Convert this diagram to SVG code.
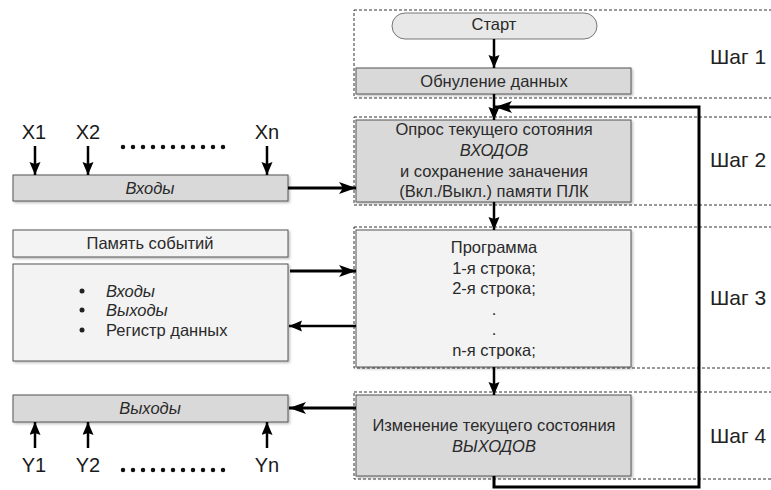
<svg xmlns="http://www.w3.org/2000/svg" width="771" height="490" viewBox="0 0 771 490">
<defs>
<marker id="ah" markerUnits="userSpaceOnUse" markerWidth="18" markerHeight="13" refX="17" refY="6" orient="auto">
<path d="M0,0 L17,6 L0,12 L4,6 z" fill="#000"/>
</marker>
<marker id="ahs" markerUnits="userSpaceOnUse" markerWidth="14" markerHeight="12" refX="13" refY="5.5" orient="auto">
<path d="M0,0 L13,5.5 L0,11 L2,5.5 z" fill="#000"/>
</marker>
<filter id="sh" x="-5%" y="-10%" width="110%" height="130%">
<feDropShadow dx="1.5" dy="1.5" stdDeviation="0.8" flood-color="#000" flood-opacity="0.25"/>
</filter>
</defs>
<style>
text{font-family:"Liberation Sans",Arial,sans-serif;fill:#2a2a2a;}
.t{font-size:16.5px;text-anchor:middle;}
.i{font-style:italic;}
.step{font-size:21px;fill:#222;}
.lbl{font-size:20px;text-anchor:middle;fill:#1a1a1a;}
.dash{fill:none;stroke:#333;stroke-width:1;stroke-dasharray:3,2;}
.dk{fill:#d9d9d9;stroke:#555;stroke-width:1;filter:url(#sh);}
.lt{fill:#f3f3f3;stroke:#555;stroke-width:1;filter:url(#sh);}
.ar{fill:none;stroke:#000;stroke-width:3;marker-end:url(#ah);}
.as{fill:none;stroke:#000;stroke-width:2.5;marker-end:url(#ahs);}
.dots{fill:none;stroke:#111;stroke-width:4.5;stroke-linecap:round;stroke-dasharray:0,10;}
</style>

<g id="steps">
<rect class="dash" x="354" y="10" width="430" height="88"/>
<rect class="dash" x="354" y="117" width="430" height="88"/>
<rect class="dash" x="354" y="227" width="430" height="141"/>
<rect class="dash" x="354" y="392" width="430" height="87"/>
<text class="step" x="710" y="64">Шаг 1</text>
<text class="step" x="710" y="167">Шаг 2</text>
<text class="step" x="710" y="305">Шаг 3</text>
<text class="step" x="710" y="443">Шаг 4</text>
</g>

<g id="start">
<rect x="392" y="13" width="205" height="26" rx="13" fill="#e8e8e8" stroke="#777" stroke-width="1"/>
<text class="t" x="494" y="30">Старт</text>
</g>

<g id="reset">
<rect class="dk" x="356" y="68" width="275" height="26"/>
<text class="t" x="494" y="87">Обнуление данных</text>
</g>

<g id="poll">
<rect class="dk" x="356" y="120" width="275" height="82"/>
<text class="t" x="494" y="135">Опрос текущего сотояния</text>
<text class="t i" x="494" y="156">ВХОДОВ</text>
<text class="t" x="494" y="177">и сохранение заначения</text>
<text class="t" x="494" y="197">(Вкл./Выкл.) памяти ПЛК</text>
</g>

<g id="program">
<rect class="lt" x="356" y="230" width="275" height="137"/>
<text class="t" x="494" y="253">Программа</text>
<text class="t" x="494" y="274">1-я строка;</text>
<text class="t" x="494" y="294">2-я строка;</text>
<text class="t" x="494" y="315">.</text>
<text class="t" x="494" y="335">.</text>
<text class="t" x="494" y="356">n-я строка;</text>
</g>

<g id="change">
<rect class="dk" x="356" y="395" width="275" height="81"/>
<text class="t" x="494" y="431">Изменение текущего состояния</text>
<text class="t i" x="494" y="452">ВЫХОДОВ</text>
</g>

<g id="inputs">
<rect class="dk" x="13" y="175" width="275" height="26"/>
<text class="t i" x="150" y="194">Входы</text>
<text class="lbl" x="34" y="139">X1</text>
<text class="lbl" x="88" y="139">X2</text>
<text class="lbl" x="267" y="139">Xn</text>
<line class="dots" x1="123" y1="147" x2="233" y2="147"/>
</g>

<g id="memory-title">
<rect class="lt" x="13" y="230" width="275" height="27"/>
<text class="t" x="150" y="249">Память событий</text>
</g>

<g id="memory">
<rect class="lt" x="13" y="264" width="275" height="97"/>
<circle cx="82" cy="291" r="2.5" fill="#222"/>
<circle cx="82" cy="310" r="2.5" fill="#222"/>
<circle cx="82" cy="330" r="2.5" fill="#222"/>
<text class="i" x="106" y="297" font-size="16.5">Входы</text>
<text class="i" x="106" y="316" font-size="16.5">Выходы</text>
<text x="106" y="336" font-size="16.5">Регистр данных</text>
</g>

<g id="outputs">
<rect class="dk" x="13" y="395" width="275" height="27"/>
<text class="t i" x="150" y="414">Выходы</text>
<text class="lbl" x="34" y="472">Y1</text>
<text class="lbl" x="88" y="472">Y2</text>
<text class="lbl" x="267" y="472">Yn</text>
<line class="dots" x1="123" y1="470" x2="233" y2="470"/>
</g>

<g id="connectors">
<line class="as" x1="494" y1="39" x2="494" y2="68"/>
<line class="as" x1="494" y1="94" x2="494" y2="120"/>
<line class="as" x1="494" y1="202" x2="494" y2="230"/>
<line class="as" x1="494" y1="367" x2="494" y2="395"/>
<path d="M494,476 V487 H699 V107 H505" fill="none" stroke="#000" stroke-width="3"/>
<line class="ar" x1="510" y1="107" x2="495" y2="107"/>
<line class="ar" x1="288" y1="188" x2="356" y2="188"/>
<line class="ar" x1="290" y1="271" x2="356" y2="271"/>
<line class="as" x1="356" y1="326" x2="289" y2="326"/>
<line class="ar" x1="356" y1="408" x2="289" y2="408"/>
<line class="as" x1="35" y1="146" x2="35" y2="175"/>
<line class="as" x1="88" y1="146" x2="88" y2="175"/>
<line class="as" x1="267" y1="146" x2="267" y2="175"/>
<line class="as" x1="35" y1="448" x2="35" y2="422"/>
<line class="as" x1="88" y1="448" x2="88" y2="422"/>
<line class="as" x1="267" y1="448" x2="267" y2="422"/>
</g>
</svg>
